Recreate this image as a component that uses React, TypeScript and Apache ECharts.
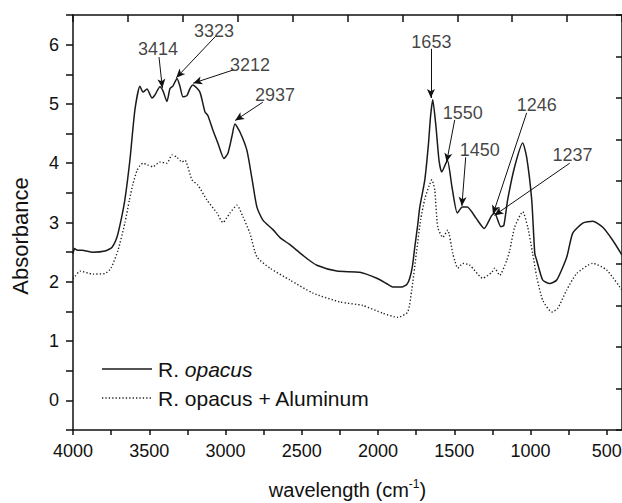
import React, { useEffect, useRef } from "react";
import * as echarts from "echarts";

// FTIR spectra: wavenumber (cm-1) and absorbance
const solidWn = [
  4000, 3990, 3967, 3941, 3870, 3790, 3745, 3712, 3685, 3660, 3627, 3594, 3561, 3541, 3515, 3482,
  3463, 3430, 3410, 3384, 3364, 3345, 3318, 3299, 3279, 3253, 3233, 3214, 3168, 3135, 3115, 3083,
  3050, 3010, 2984, 2958, 2938, 2906, 2860, 2827, 2794, 2755, 2689, 2644, 2580, 2532, 2460, 2401,
  2270, 2119, 2008, 1950, 1903, 1844, 1810, 1792, 1775, 1759, 1740, 1726, 1693, 1670, 1655, 1641,
  1620, 1600, 1582, 1545, 1515, 1480, 1447, 1415, 1356, 1304, 1254, 1235, 1195, 1175, 1150, 1104,
  1051, 1025, 992, 972, 959, 920, 874, 828, 762, 723, 657, 592, 526, 461, 400,
];
const solidAbs = [
  2.47, 2.56, 2.53, 2.53, 2.5, 2.52, 2.58, 2.75, 3.04, 3.38, 4.05, 4.9, 5.3, 5.2, 5.25, 5.1,
  5.15, 5.29, 5.22, 5.04, 5.26, 5.3, 5.43, 5.3, 5.12, 5.14, 5.26, 5.32, 5.2, 4.87, 4.8, 4.56,
  4.34, 4.08, 4.17, 4.45, 4.66, 4.53, 4.22, 3.75, 3.26, 3.04, 2.88, 2.75, 2.63, 2.53, 2.38, 2.28,
  2.18, 2.16, 2.06, 1.98, 1.91, 1.91, 1.96, 2.06, 2.25, 2.58, 2.95, 3.26, 3.72, 4.3, 4.8, 5.07,
  4.62, 4.05, 3.85, 4.05, 3.6, 3.16, 3.26, 3.26, 3.07, 2.9, 3.12, 3.16, 2.93, 2.95, 3.38, 3.94,
  4.34, 4.1, 3.38, 2.48, 2.36, 2.03, 1.97, 2.03, 2.42, 2.82, 2.99, 3.02, 2.92, 2.7, 2.45,
];

const dottedWn = [
  4000, 3987, 3954, 3870, 3790, 3751, 3705, 3660, 3630, 3607, 3580, 3561, 3541, 3510, 3476, 3430,
  3384, 3351, 3318, 3286, 3266, 3220, 3181, 3122, 3056, 3017, 2971, 2925, 2886, 2840, 2794, 2709,
  2578, 2427, 2250, 2100, 1969, 1870, 1805, 1779, 1746, 1720, 1693, 1665, 1647, 1628, 1608, 1575,
  1543, 1510, 1497, 1477, 1444, 1398, 1313, 1254, 1235, 1202, 1156, 1136, 1104, 1051, 1018, 986,
  959, 920, 861, 822, 763, 697, 592, 501, 400,
];
const dottedAbs = [
  2.05, 2.09, 2.18, 2.13, 2.14, 2.23, 2.53, 2.99, 3.38, 3.65, 3.88, 3.96, 4.0, 3.97, 3.94, 4.02,
  4.0, 4.14, 4.1, 4.02, 4.05, 3.72, 3.63, 3.38, 3.16, 3.0, 3.16, 3.29, 3.1, 2.82, 2.42, 2.23,
  2.03, 1.81, 1.66, 1.6, 1.47, 1.4, 1.49, 1.86, 2.53, 3.05, 3.4, 3.62, 3.72, 3.55, 2.92, 2.75,
  2.87, 2.48, 2.36, 2.23, 2.31, 2.28, 2.06, 2.16, 2.23, 2.11, 2.36, 2.53, 2.92, 3.18, 2.92, 2.48,
  2.08, 1.69, 1.49, 1.55, 1.86, 2.14, 2.31, 2.2, 1.86,
];

// Peak annotations: labelled wavenumber, absorbance at the arrow tip
const peakWn = [3414, 3323, 3212, 2937, 1653, 1550, 1450, 1246, 1237];
const peakAbs = [5.27, 5.44, 5.35, 4.72, 5.1, 4.02, 3.28, 3.14, 3.12];
// where each label text sits and where its arrow starts (data coordinates)
const labelAt = [
  [3443, 5.93], [3076, 6.23], [2840, 5.66], [2676, 5.15], [1650, 6.05],
  [1444, 4.85], [1333, 4.22], [959, 4.98], [724, 4.14],
];
const tailAt = [
  [3436, 5.79], [3069, 6.13], [2952, 5.57], [2755, 5.03], [1653, 5.93],
  [1497, 4.73], [1425, 4.1], [1025, 4.85], [743, 4.0],
];

const xMajorTicks = [500, 1000, 1500, 2000, 2500, 3000, 3500, 4000];
const xAllTicks = [500, 750, 1000, 1250, 1500, 1750, 2000, 2250, 2500, 2750, 3000, 3250, 3500, 3750, 4000];

const FONT = "'Liberation Sans', Arial, Helvetica, sans-serif";
const INK = "#111";

export default function App() {
  const ref = useRef<HTMLDivElement>(null);

  useEffect(() => {
    if (!ref.current) return;
    const chart = echarts.init(ref.current, undefined, { renderer: "svg" });

    const solid = solidWn.map((w, i) => [w, solidAbs[i]]);
    const dotted = dottedWn.map((w, i) => [w, dottedAbs[i]]);
    const arrows = peakWn.map((w, i) => [
      { coord: tailAt[i], symbol: "none" },
      { coord: [w, peakAbs[i]], symbol: "arrow" },
    ]);
    const labels = peakWn.map((w, i) => ({ value: labelAt[i], name: String(w) }));

    const axisLine = { show: true, onZero: false, lineStyle: { color: "#111", width: 1.5 } };

    chart.setOption({
      animation: false,
      backgroundColor: "#fff",
      grid: {
        left: 73,
        right: 0,
        top: 15,
        bottom: 73,
        containLabel: false,
        outerBoundsMode: "none",
      },
      xAxis: [
        {
          type: "value",
          position: "bottom",
          inverse: true,
          min: 400,
          max: 4000,
          axisLine,
          axisTick: {
            show: true,
            inside: false,
            length: 5,
            customValues: xAllTicks,
            lineStyle: { color: "#111", width: 1.5 },
          },
          axisLabel: {
            show: true,
            customValues: xMajorTicks,
            fontSize: 18,
            fontFamily: FONT,
            color: INK,
            margin: 12,
            formatter: (v: number) => String(v),
          },
          splitLine: { show: false },
          name: "{n|wavelength (cm}{s|-1}{n|)}",
          nameLocation: "middle",
          nameGap: 48,
          nameTextStyle: {
            rich: {
              n: { fontSize: 20, fontFamily: FONT, color: INK, lineHeight: 24 },
              s: { fontSize: 12, fontFamily: FONT, color: INK, lineHeight: 12, verticalAlign: "top" },
            },
          },
        },
        {
          type: "value",
          position: "top",
          min: 0,
          max: 10,
          interval: 1,
          axisLine,
          axisTick: { show: true, inside: true, length: 7, lineStyle: { color: "#111", width: 1.5 } },
          axisLabel: { show: false },
          splitLine: { show: false },
        },
      ],
      yAxis: [
        {
          type: "value",
          position: "left",
          min: -0.5,
          max: 6.5,
          interval: 0.5,
          axisLine,
          axisTick: { show: true, inside: false, length: 7, lineStyle: { color: "#111", width: 1.5 } },
          axisLabel: {
            fontSize: 18,
            fontFamily: FONT,
            color: INK,
            margin: 14,
            formatter: (v: number) => (Math.abs(v - Math.round(v)) < 1e-6 ? String(Math.round(v)) : ""),
          },
          splitLine: { show: false },
        },
        {
          type: "value",
          position: "right",
          min: 0,
          max: 10,
          interval: 1,
          axisLine,
          axisTick: { show: true, inside: true, length: 6, lineStyle: { color: "#111", width: 1.5 } },
          axisLabel: { show: false },
          splitLine: { show: false },
        },
      ],
      series: [
        {
          name: "R. opacus",
          type: "line",
          xAxisIndex: 0,
          yAxisIndex: 0,
          data: solid,
          showSymbol: false,
          symbol: "none",
          smooth: 0.2,
          lineStyle: { color: "#1a1a1a", width: 1.5 },
          markLine: {
            silent: true,
            symbolSize: [6, 9],
            lineStyle: { color: "#111", width: 1, type: "solid" },
            itemStyle: { color: "#111" },
            label: { show: false },
            data: arrows,
          },
        },
        {
          name: "R. opacus + Aluminum",
          type: "line",
          xAxisIndex: 0,
          yAxisIndex: 0,
          data: dotted,
          showSymbol: false,
          symbol: "none",
          smooth: 0.2,
          lineStyle: { color: "#222", width: 1.4, type: [1.3, 2.1] },
        },
        {
          type: "scatter",
          xAxisIndex: 0,
          yAxisIndex: 0,
          silent: true,
          symbolSize: 0,
          data: labels,
          label: {
            show: true,
            position: "inside",
            formatter: (p: any) => p.name,
            fontSize: 18,
            fontFamily: FONT,
            color: INK,
            align: "center",
            verticalAlign: "middle",
          },
        },
      ],
      graphic: [
        {
          type: "text",
          x: 20,
          y: 236,
          rotation: Math.PI / 2,
          style: {
            text: "Absorbance",
            fontSize: 22,
            fontFamily: FONT,
            fill: INK,
            align: "center",
            verticalAlign: "middle",
          },
        },
        {
          type: "line",
          shape: { x1: 102, y1: 369, x2: 152, y2: 369 },
          style: { stroke: "#1a1a1a", lineWidth: 1.5 },
        },
        {
          type: "text",
          x: 158,
          y: 369,
          style: {
            text: "{n|R. }{i|opacus}",
            verticalAlign: "middle",
            rich: {
              n: { fontSize: 21, fontFamily: FONT, fill: INK },
              i: { fontSize: 21, fontFamily: FONT, fontStyle: "italic", fill: INK },
            },
          },
        },
        {
          type: "line",
          shape: { x1: 102, y1: 398, x2: 152, y2: 398 },
          style: { stroke: "#222", lineWidth: 1.4, lineDash: [1.3, 2.1] },
        },
        {
          type: "text",
          x: 158,
          y: 398,
          style: {
            text: "R. opacus + Aluminum",
            fontSize: 21,
            fontFamily: FONT,
            fill: INK,
            verticalAlign: "middle",
          },
        },
      ],
    });

    return () => chart.dispose();
  }, []);

  return <div ref={ref} style={{ width: 622, height: 503, position: "absolute", left: 0, top: 0 }} />;
}
